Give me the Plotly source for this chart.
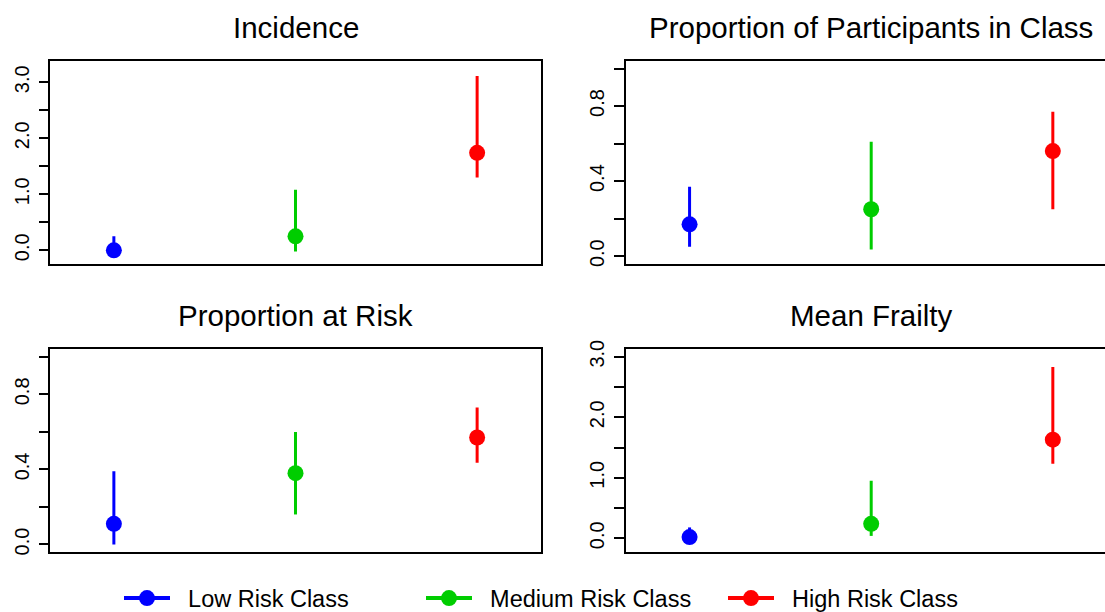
import plotly.graph_objects as go

# Risk classes and their colours
classes = ["Low Risk Class", "Medium Risk Class", "High Risk Class"]
colors = ["#0000FF", "#00CD00", "#FF0000"]
class_pos = [1, 2, 3]

# Point estimates with lower / upper interval bounds for each panel
incidence_est = [0.00, 0.25, 1.74]
incidence_lo = [0.00, -0.02, 1.30]
incidence_hi = [0.25, 1.08, 3.11]

participants_est = [0.17, 0.25, 0.56]
participants_lo = [0.05, 0.035, 0.25]
participants_hi = [0.37, 0.61, 0.77]

atrisk_est = [0.11, 0.38, 0.57]
atrisk_lo = [0.00, 0.16, 0.435]
atrisk_hi = [0.39, 0.60, 0.73]

frailty_est = [0.02, 0.24, 1.63]
frailty_lo = [0.00, 0.04, 1.23]
frailty_hi = [0.18, 0.95, 2.83]

titles = ["Incidence", "Proportion of Participants in Class",
          "Proportion at Risk", "Mean Frailty"]

panels = [
    (incidence_est, incidence_lo, incidence_hi),
    (participants_est, participants_lo, participants_hi),
    (atrisk_est, atrisk_lo, atrisk_hi),
    (frailty_est, frailty_lo, frailty_hi),
]

W, H = 1105, 612
FONT = "Liberation Sans, Arial, Helvetica, sans-serif"
GAP = "\u00a0\u00a0"  # space between legend key and its label

# panel boxes in pixels (left, right, top, bottom); right panels run past the page edge
left_x = (50.3, 540.7)
right_x = (626.0, 1105.0)
top_y = (61.0, 263.7)
bot_y = (349.3, 552.0)
px_per_unit = (left_x[1] - left_x[0]) / 2.7
x_range_left = [0.65, 3.35]
x_range_right = [0.65, 0.65 + (right_x[1] - right_x[0]) / px_per_unit]

boxes = [(left_x, top_y), (right_x, top_y), (left_x, bot_y), (right_x, bot_y)]
y_ranges = [[-0.239, 3.380], [-0.04, 1.04], [-0.04, 1.04], [-0.226, 3.122]]
tick_a = dict(tickvals=[0, 0.5, 1, 1.5, 2, 2.5, 3],
              ticktext=["0.0", "", "1.0", "", "2.0", "", "3.0"])
tick_b = dict(tickvals=[0, 0.2, 0.4, 0.6, 0.8, 1.0],
              ticktext=["0.0", "", "0.4", "", "0.8", ""])
y_ticks = [tick_a, tick_b, tick_b, tick_a]

fig = go.Figure()

for p, (est, lo, hi) in enumerate(panels):
    sfx = "" if p == 0 else str(p + 1)
    for i, name in enumerate(classes):
        fig.add_trace(go.Scatter(
            x=[class_pos[i]], y=[est[i]],
            mode="lines+markers",
            name=GAP + name,
            legendgroup=name,
            showlegend=(p == 0),
            marker=dict(color=colors[i], size=16),
            line=dict(color=colors[i], width=4),
            error_y=dict(type="data", symmetric=False,
                         array=[hi[i] - est[i]],
                         arrayminus=[est[i] - lo[i]],
                         color=colors[i], thickness=3, width=0),
            xaxis="x" + sfx, yaxis="y" + sfx,
            hoverinfo="skip",
        ))

layout = dict(
    width=W, height=H,
    margin=dict(l=0, r=0, t=0, b=0, autoexpand=False),
    paper_bgcolor="white", plot_bgcolor="white",
    font=dict(family=FONT, color="black"),
    showlegend=True,
    legend=dict(orientation="h", x=119 / W, xanchor="left",
                y=1 - 598.3 / H, yanchor="middle",
                font=dict(size=23.5, family=FONT, color="black"),
                itemwidth=46, entrywidth=241, itemsizing="trace",
                bgcolor="rgba(0,0,0,0)"),
)

annotations = []
for p, ((xb, yb), yr, tk) in enumerate(zip(boxes, y_ranges, y_ticks)):
    sfx = "" if p == 0 else str(p + 1)
    is_right = p in (1, 3)
    xdom = [xb[0] / W, xb[1] / W]
    ydom = [1 - yb[1] / H, 1 - yb[0] / H]
    layout["xaxis" + sfx] = dict(
        domain=xdom, range=x_range_right if is_right else x_range_left,
        showline=True, mirror=True, linecolor="black", linewidth=1.5,
        showticklabels=False, ticks="", showgrid=False, zeroline=False,
        anchor="y" + sfx, fixedrange=True,
    )
    layout["yaxis" + sfx] = dict(
        domain=ydom, range=yr,
        showline=True, mirror=not is_right, linecolor="black", linewidth=1.5,
        ticks="outside", ticklen=10, tickwidth=1.5, tickcolor="black",
        tickangle=-90, tickfont=dict(size=20, family=FONT, color="black"),
        ticklabelstandoff=2,
        showgrid=False, zeroline=False, anchor="x" + sfx, fixedrange=True,
        automargin=False,
        **tk,
    )
    full_right = xb[0] + (left_x[1] - left_x[0])
    cx = (xb[0] + full_right) / 2
    annotations.append(dict(
        text=titles[p], xref="paper", yref="paper",
        x=cx / W, y=1 - (yb[0] - 33.5) / H,
        xanchor="center", yanchor="middle", showarrow=False,
        font=dict(size=29.5, family=FONT, color="black"),
    ))

layout["annotations"] = annotations
fig.update_layout(**layout)

fig.write_html("out.html", config={"displayModeBar": False})
